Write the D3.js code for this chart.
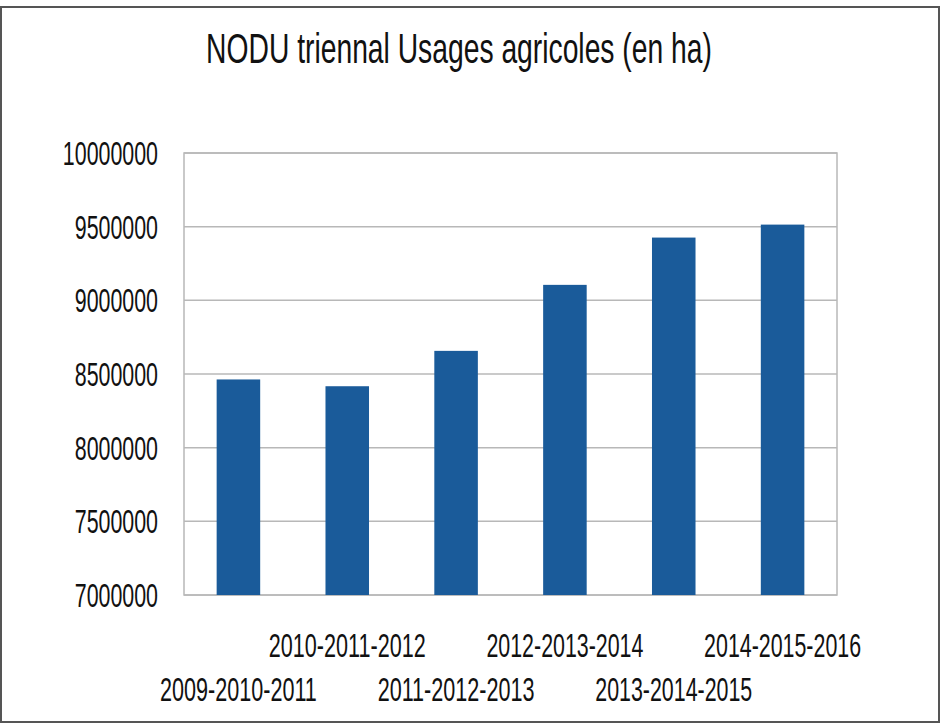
<!DOCTYPE html>
<html>
<head>
<meta charset="utf-8">
<script src="https://cdn.jsdelivr.net/npm/d3@7/dist/d3.min.js"></script>
<style>
  html, body { margin: 0; padding: 0; background: #fff; }
  svg { display: block; }
  text { font-family: "Liberation Sans Narrow", "Liberation Sans", Arial, sans-serif; fill: #111; }
</style>
</head>
<body>
<svg id="chart" width="941" height="725"></svg>
<script>
const categories = ["2009-2010-2011", "2010-2011-2012", "2011-2012-2013", "2012-2013-2014", "2013-2014-2015", "2014-2015-2016"];
const values = [8463000, 8417000, 8657000, 9105000, 9426000, 9514000];
const yTicks = [7000000, 7500000, 8000000, 8500000, 9000000, 9500000, 10000000];
const title = "NODU triennal Usages agricoles (en ha)";

(function () {
const svg = d3.select("#chart");
const W = 941, H = 725;
const pLeft = 184, pRight = 837, pTop = 153, pBottom = 595;
const FONT = '"Liberation Sans Narrow", "Liberation Sans", Arial, sans-serif';

svg.append("rect").attr("width", W).attr("height", H).attr("fill", "#fff");
// outer frame
svg.append("rect").attr("x", 1).attr("y", 7).attr("width", 938).attr("height", 715)
  .attr("fill", "none").attr("stroke", "#555").attr("stroke-width", 2);

const x = d3.scaleBand().domain(categories).range([pLeft, pRight]).paddingInner(0.6).paddingOuter(0.3);
const y = d3.scaleLinear().domain([7000000, 10000000]).range([pBottom, pTop]);

// gridlines
svg.append("g").selectAll("line").data(yTicks).join("line")
  .attr("x1", pLeft).attr("x2", pRight)
  .attr("y1", d => y(d)).attr("y2", d => y(d))
  .attr("stroke", "#b8b8b8").attr("stroke-width", 1.5);

// plot frame
svg.append("rect").attr("x", pLeft).attr("y", pTop).attr("width", pRight - pLeft).attr("height", pBottom - pTop)
  .attr("fill", "none").attr("stroke", "#b8b8b8").attr("stroke-width", 1.5);

// bars
svg.append("g").selectAll("rect").data(values).join("rect")
  .attr("x", (d, i) => x(categories[i]))
  .attr("width", x.bandwidth())
  .attr("y", d => y(d))
  .attr("height", d => y(7000000) - y(d))
  .attr("fill", "#1a5b9a");

// scale a text horizontally so its width equals target
function squeeze(sel, target) {
  sel.each(function(d, i) {
    const t = typeof target === "function" ? target(d, i) : target;
    const len = this.getComputedTextLength();
    const s = len > 0 ? t / len : 1;
    const el = d3.select(this);
    const prev = el.attr("transform") || "";
    el.attr("transform", prev + ` scale(${s},1)`);
  });
}

// y axis labels
const yAxis = d3.axisLeft(y).tickValues(yTicks).tickSize(0).tickPadding(0).tickFormat(d3.format("d"));
const ya = svg.append("g").attr("transform", "translate(158,0)").call(yAxis);
ya.select(".domain").remove();
ya.selectAll("text")
  .attr("font-size", 33)
  .attr("dy", "0.35em")
  .attr("x", 0)
  .style("font-family", FONT)
  .attr("fill", "#111")
  .call(squeeze, d => String(d).length * 11.9);

// x labels (staggered)
const xl = svg.append("g").selectAll("g").data(categories).join("g")
  .attr("transform", (d, i) => `translate(${x(d) + x.bandwidth() / 2},${i % 2 === 0 ? 701 : 657})`);
xl.append("text")
  .attr("text-anchor", "middle")
  .attr("font-size", 33)
  .text(d => d)
  .call(squeeze, 157);

// title
svg.append("g").attr("transform", "translate(459,63)")
  .append("text")
  .attr("text-anchor", "middle")
  .attr("font-size", 43)
  .text(title)
  .call(squeeze, 506);
})();
</script>
</body>
</html>
